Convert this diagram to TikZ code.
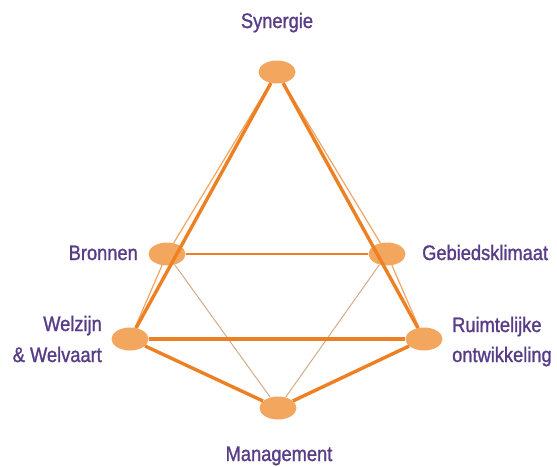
\documentclass[tikz,border=0pt]{standalone}
\usepackage{fontspec}
\setmainfont{Liberation Sans}[FakeStretch=0.87,FakeBold=1.2]
\usetikzlibrary{shapes.geometric}
\definecolor{dotc}{RGB}{242,166,94}
\definecolor{thickc}{RGB}{238,128,36}
\definecolor{thinc}{RGB}{240,165,100}
\definecolor{tanc}{RGB}{210,172,135}
\definecolor{labc}{RGB}{88,60,135}
\begin{document}
\begin{tikzpicture}[x=1pt,y=-1pt,
  dot/.style={ellipse,fill=dotc,minimum width=37pt,minimum height=23pt,inner sep=0pt},
  lbl/.style={text=labc,font=\fontsize{21}{30}\selectfont,inner sep=0pt},
  strong/.style={draw=thickc,line width=3.4pt},
  medium/.style={draw=thickc,line width=1.8pt},
  weak/.style={draw=thinc,line width=1.2pt},
  faint/.style={draw=tanc,line width=1pt}]
\useasboundingbox (0,0) rectangle (557,466);
% nodes
\node[dot] (syn) at (277,72) {};
\node[dot] (bro) at (167,254) {};
\node[dot] (geb) at (387,254) {};
\node[dot] (wel) at (130,339) {};
\node[dot] (rui) at (424,339) {};
\node[dot] (man) at (278,408) {};
% back edges
\draw[weak] (syn) -- (bro);
\draw[weak] (syn) -- (geb);
\draw[weak] (bro) -- (wel);
\draw[weak] (geb) -- (rui);
\draw[faint] (bro) -- (man);
\draw[faint] (geb) -- (man);
\draw[medium] (bro) -- (geb);
% front edges
\draw[strong] (syn) -- (wel);
\draw[strong] (syn) -- (rui);
\draw[strong] (wel) -- (rui);
\draw[strong] (wel) -- (man);
\draw[strong] (rui) -- (man);
% labels
\node[lbl,anchor=base] (tsyn) at (277,28) {Synergie};
\node[lbl,anchor=base east] (tbro) at (138,260) {Bronnen};
\node[lbl,anchor=base west] (tgeb) at (422,260) {Gebiedsklimaat};
\node[lbl,anchor=base east] (twel1) at (102,331) {Welzijn};
\node[lbl,anchor=base east] (twel2) at (102,362) {\& Welvaart};
\node[lbl,anchor=base west] (trui1) at (452,332) {Ruimtelijke};
\node[lbl,anchor=base west] (trui2) at (452,362) {ontwikkeling};
\node[lbl,anchor=base] (tman) at (279,461) {Management};
\end{tikzpicture}
\end{document}
